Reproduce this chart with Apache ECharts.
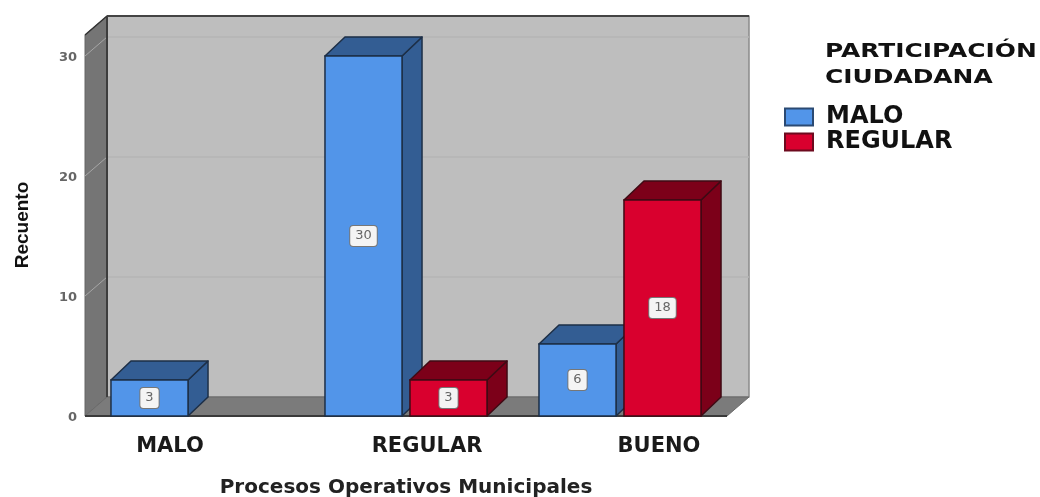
<!DOCTYPE html>
<html>
<head>
<meta charset="utf-8">
<style>html,body{margin:0;padding:0;background:#fff}#c{width:1040px;height:497px}</style>
<script src="https://cdn.jsdelivr.net/npm/echarts@6/dist/echarts.min.js"></script>
</head>
<body>
<div id="c"></div>
<script>
const categories = ['MALO', 'REGULAR', 'BUENO'];
const maloValues = [3, 30, 6];
const regularValues = [null, 3, 18];
const yTicks = [0, 10, 20, 30];
const legendTitle = 'PARTICIPACIÓN\nCIUDADANA';
const xTitle = 'Procesos Operativos Municipales';
const yTitle = 'Recuento';

const labelShift = [-44, 42, 78];
const DEPTH_X = 20, DEPTH_Y = 19;
const WALL_X = 22, WALL_Y = 19;
const FONT = '"DejaVu Sans", sans-serif';

function poly(points, fill, stroke, width) {
  return {type: 'polygon', shape: {points: points},
    style: {fill: fill, stroke: stroke || null, lineWidth: width || 1, lineJoin: 'round'}};
}

function bar3d(front, dark, edge, sign) {
  return function (params, api) {
    const v = api.value(1);
    if (v === null || isNaN(v)) return;
    const band = api.size([1, 0])[0];
    const w = band * 0.36;
    const c = api.coord([api.value(0), 0]);
    const t = api.coord([api.value(0), v]);
    const x0 = c[0] + sign * band * 0.1986 - w / 2, x1 = x0 + w;
    const yB = c[1], yT = t[1];
    return {type: 'group', children: [
      poly([[x1, yB], [x1 + DEPTH_X, yB - DEPTH_Y], [x1 + DEPTH_X, yT - DEPTH_Y], [x1, yT]], dark, edge, 1.5),
      poly([[x0, yT], [x1, yT], [x1 + DEPTH_X, yT - DEPTH_Y], [x0 + DEPTH_X, yT - DEPTH_Y]], dark, edge, 1.5),
      {type: 'rect', shape: {x: x0, y: yT, width: w, height: yB - yT},
        style: {fill: front, stroke: edge, lineWidth: 1.5}},
      {type: 'text', x: (x0 + x1) / 2, y: (yT + yB) / 2, z2: 10,
        style: {text: String(v), fill: '#666', font: '13px ' + FONT, align: 'center', verticalAlign: 'middle',
          backgroundColor: '#f4f4f4', borderColor: '#777', borderWidth: 1, borderRadius: 3,
          padding: [4, 5, 3, 5]}}
    ]};
  };
}

function renderWalls(params, api) {
  const cs = params.coordSys;
  const L = cs.x, R = cs.x + cs.width, B = cs.y + cs.height;
  const T = api.coord([0, api.value(1)])[1];
  const kids = [
    poly([[L + WALL_X, T - WALL_Y], [R + WALL_X, T - WALL_Y], [R + WALL_X, B - WALL_Y], [L + WALL_X, B - WALL_Y]], '#bebebe', '#8a8a8a', 1.5),
    poly([[L, T], [L + WALL_X, T - WALL_Y], [L + WALL_X, B - WALL_Y], [L, B]], '#757575', '#666', 1),
    poly([[L, B], [R, B], [R + WALL_X, B - WALL_Y], [L + WALL_X, B - WALL_Y]], '#7b7b7b', '#6a6a6a', 1)
  ];
  yTicks.slice(1).forEach(function (t) {
    const y = api.coord([0, t])[1];
    kids.push({type: 'line', shape: {x1: L + WALL_X, y1: y - WALL_Y, x2: R + WALL_X, y2: y - WALL_Y},
      style: {stroke: '#b5b5b5', lineWidth: 1.5}});
    kids.push({type: 'line', shape: {x1: L, y1: y, x2: L + WALL_X, y2: y - WALL_Y},
      style: {stroke: '#a6a6a6', lineWidth: 1}});
  });
  kids.push({type: 'line', shape: {x1: L + WALL_X, y1: T - WALL_Y, x2: L + WALL_X, y2: B - WALL_Y},
    style: {stroke: '#3d3d3d', lineWidth: 2}});
  kids.push({type: 'line', shape: {x1: L + WALL_X, y1: T - WALL_Y, x2: R + WALL_X, y2: T - WALL_Y},
    style: {stroke: '#444', lineWidth: 2}});
  kids.push({type: 'line', shape: {x1: L, y1: T, x2: L + WALL_X, y2: T - WALL_Y},
    style: {stroke: '#333', lineWidth: 1.5}});
  kids.push({type: 'line', shape: {x1: L, y1: B, x2: R, y2: B},
    style: {stroke: '#3a3a3a', lineWidth: 2}});
  return {type: 'group', children: kids};
}

const chart = echarts.init(document.getElementById('c'), null, {renderer: 'canvas'});
chart.setOption({
  animation: false,
  backgroundColor: '#fff',
  graphic: [{type: 'text', x: 825, y: 39, scaleX: 1.31,
    style: {text: legendTitle, font: 'bold 19px ' + FONT, fill: '#111', lineHeight: 26}}],
  legend: {
    data: ['MALO', 'REGULAR'], orient: 'vertical', left: 784, top: 105, padding: 0,
    itemWidth: 28, itemHeight: 17, itemGap: 1, selectedMode: false, icon: 'rect',
    textStyle: {fontFamily: FONT, fontWeight: 'bold', fontSize: 24, color: '#111', padding: [0, 0, 0, 8]}
  },
  grid: {left: 85, width: 642, top: 56, height: 360, containLabel: false, outerBoundsMode: 'none'},
  xAxis: {
    type: 'category',
    data: categories.map(function (c, i) {
      const s = labelShift[i];
      return {value: c, textStyle: {padding: s < 0 ? [0, -s, 0, 0] : [0, 0, 0, s]}};
    }),
    name: xTitle, nameLocation: 'middle', nameGap: 62,
    nameTextStyle: {fontFamily: FONT, fontWeight: 'bold', fontSize: 20, color: '#222'},
    axisLine: {show: false}, axisTick: {show: false}, splitLine: {show: false},
    axisLabel: {margin: 20, fontFamily: FONT, fontWeight: 'bold', fontSize: 21, color: '#1a1a1a', interval: 0, hideOverlap: false}
  },
  yAxis: {
    type: 'value', min: 0, max: 30, interval: 10,
    name: yTitle, nameLocation: 'middle', nameGap: 53, nameRotate: 90,
    nameTextStyle: {fontFamily: '"Liberation Sans Narrow", "Liberation Sans", sans-serif', fontWeight: 'bold', fontSize: 19, color: '#111', padding: [0, 0, 0, 22]},
    axisLine: {show: false}, axisTick: {show: false}, splitLine: {show: false},
    axisLabel: {margin: 8, formatter: function (v) { return '{t|' + v + '}'; },
      rich: {t: {fontFamily: FONT, fontWeight: 'bold', fontSize: 13, color: '#666', padding: [4, 0, 0, 0]}}}
  },
  series: [
    {type: 'custom', name: 'paredes', renderItem: renderWalls, data: [[0, 31.75]], silent: true, clip: false,
     encode: {x: 0, y: 1}, z: 1},
    {type: 'custom', name: 'MALO', renderItem: bar3d('#5295e9', '#335d93', '#1d2f47', -1), z: 2, clip: false,
     itemStyle: {color: '#5295e9', borderColor: '#2b4a73', borderWidth: 2},
     encode: {x: 0, y: 1}, data: maloValues.map(function (v, i) { return [i, v]; })},
    {type: 'custom', name: 'REGULAR', renderItem: bar3d('#d9002e', '#7c0019', '#3f0a14', 1), z: 3, clip: false,
     itemStyle: {color: '#d9002e', borderColor: '#6d0a1e', borderWidth: 2},
     encode: {x: 0, y: 1}, data: regularValues.map(function (v, i) { return [i, v === null ? '-' : v]; })}
  ]
});
</script>
</body>
</html>
